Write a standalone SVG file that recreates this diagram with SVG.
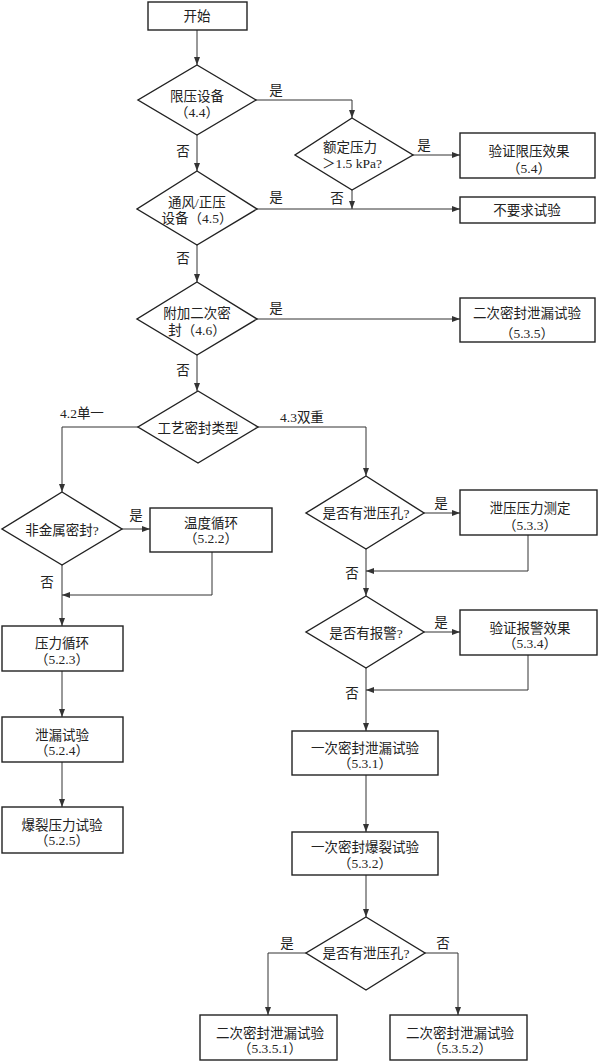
<svg xmlns="http://www.w3.org/2000/svg" width="598" height="1062" viewBox="0 0 598 1062">
<style>
.n rect,.n polygon{fill:#fff;stroke:#222;stroke-width:1.4}
text{font-family:"Liberation Serif","Noto Sans CJK SC",serif;font-size:13.5px;fill:#222;text-anchor:middle}
.l{font-size:13px}
.s{text-anchor:start}
#edges path{fill:none;stroke:#333;stroke-width:1}
</style>
<defs>
<marker id="a" markerUnits="userSpaceOnUse" markerWidth="8" markerHeight="6" refX="8" refY="3" orient="auto">
<path d="M0,0 L8,3 L0,6 z" fill="#333"/>
</marker>
</defs>
<rect width="598" height="1062" fill="#fff"/>
<g id="edges">
<path d="M197,30 V65" marker-end="url(#a)"/>
<path d="M256,100 H352 V118" marker-end="url(#a)"/>
<path d="M413,155 H460" marker-end="url(#a)"/>
<path d="M352,190 V209" marker-end="url(#a)"/>
<path d="M197,135 V171" marker-end="url(#a)"/>
<path d="M257,209 H460" marker-end="url(#a)"/>
<path d="M197,245 V282" marker-end="url(#a)"/>
<path d="M257,319 H460" marker-end="url(#a)"/>
<path d="M197,355 V391" marker-end="url(#a)"/>
<path d="M138,427 H62 V492" marker-end="url(#a)"/>
<path d="M258,427 H366 V476" marker-end="url(#a)"/>
<path d="M122,529 H150" marker-end="url(#a)"/>
<path d="M212,552 V595 H62" marker-end="url(#a)"/>
<path d="M62,565 V626" marker-end="url(#a)"/>
<path d="M62,671 V717" marker-end="url(#a)"/>
<path d="M62,762 V807" marker-end="url(#a)"/>
<path d="M424,513 H460" marker-end="url(#a)"/>
<path d="M528,535 V571 H366" marker-end="url(#a)"/>
<path d="M366,549 V596" marker-end="url(#a)"/>
<path d="M424,632 H460" marker-end="url(#a)"/>
<path d="M528,655 V690 H366" marker-end="url(#a)"/>
<path d="M366,668 V731" marker-end="url(#a)"/>
<path d="M366,775 V832" marker-end="url(#a)"/>
<path d="M366,875 V917" marker-end="url(#a)"/>
<path d="M306,953 H268 V1015" marker-end="url(#a)"/>
<path d="M425,953 H458 V1015" marker-end="url(#a)"/>
</g>
<g id="labels" class="l">
<text x="276" y="95">是</text>
<text x="183" y="156">否</text>
<text x="424" y="150">是</text>
<text x="337" y="203">否</text>
<text x="276" y="202">是</text>
<text x="183" y="263">否</text>
<text x="276" y="313">是</text>
<text x="183" y="375">否</text>
<text class="s" x="60" y="418">4.2单一</text>
<text class="s" x="280" y="422">4.3双重</text>
<text x="136" y="520">是</text>
<text x="47" y="587">否</text>
<text x="441" y="508">是</text>
<text x="352" y="578">否</text>
<text x="441" y="627">是</text>
<text x="352" y="698">否</text>
<text x="287" y="948">是</text>
<text x="443" y="948">否</text>
</g>
<g id="start" class="n"><rect x="148" y="2" width="99" height="28"/><text x="197" y="21">开始</text></g>
<g id="d1" class="n"><polygon points="197,65 256,100 197,135 138,100"/><text x="197" y="101">限压设备</text><text x="197" y="117">（4.4）</text></g>
<g id="d2" class="n"><polygon points="352,118 413,155 352,190 295,155"/><text x="350" y="152">额定压力</text><text x="352" y="168">＞1.5 kPa?</text></g>
<g id="b54" class="n"><rect x="460" y="133" width="135" height="45"/><text x="529" y="156">验证限压效果</text><text x="529" y="173">（5.4）</text></g>
<g id="bno" class="n"><rect x="460" y="197" width="135" height="26"/><text x="527" y="215">不要求试验</text></g>
<g id="d3" class="n"><polygon points="197,171 257,209 197,245 137,209"/><text x="197" y="207">通风/正压</text><text x="197" y="223">设备（4.5）</text></g>
<g id="d4" class="n"><polygon points="197,282 257,319 197,355 137,319"/><text x="197" y="318">附加二次密</text><text x="197" y="335">封（4.6）</text></g>
<g id="b535" class="n"><rect x="460" y="298" width="135" height="44"/><text x="527" y="318">二次密封泄漏试验</text><text x="527" y="338">（5.3.5）</text></g>
<g id="d5" class="n"><polygon points="198,391 258,427 198,463 138,427"/><text x="198" y="433">工艺密封类型</text></g>
<g id="d6" class="n"><polygon points="62,492 122,529 62,565 2,529"/><text x="62" y="535">非金属密封?</text></g>
<g id="b522" class="n"><rect x="150" y="508" width="122" height="44"/><text x="211" y="528">温度循环</text><text x="211" y="543">（5.2.2）</text></g>
<g id="b523" class="n"><rect x="2" y="626" width="121" height="45"/><text x="62" y="648">压力循环</text><text x="62" y="664">（5.2.3）</text></g>
<g id="b524" class="n"><rect x="2" y="717" width="121" height="45"/><text x="62" y="740">泄漏试验</text><text x="62" y="755">（5.2.4）</text></g>
<g id="b525" class="n"><rect x="2" y="807" width="121" height="46"/><text x="62" y="830">爆裂压力试验</text><text x="62" y="845">（5.2.5）</text></g>
<g id="d7" class="n"><polygon points="366,476 424,513 366,549 306,513"/><text x="366" y="518">是否有泄压孔?</text></g>
<g id="b533" class="n"><rect x="460" y="490" width="137" height="45"/><text x="530" y="513">泄压压力测定</text><text x="530" y="530">（5.3.3）</text></g>
<g id="d8" class="n"><polygon points="366,596 424,632 366,668 306,632"/><text x="366" y="638">是否有报警?</text></g>
<g id="b534" class="n"><rect x="460" y="610" width="137" height="45"/><text x="530" y="633">验证报警效果</text><text x="530" y="648">（5.3.4）</text></g>
<g id="b531" class="n"><rect x="292" y="731" width="146" height="44"/><text x="365" y="753">一次密封泄漏试验</text><text x="365" y="768">（5.3.1）</text></g>
<g id="b532" class="n"><rect x="292" y="832" width="146" height="43"/><text x="365" y="852">一次密封爆裂试验</text><text x="365" y="868">（5.3.2）</text></g>
<g id="d9" class="n"><polygon points="366,917 425,953 366,990 306,953"/><text x="366" y="958">是否有泄压孔?</text></g>
<g id="b5351" class="n"><rect x="200" y="1015" width="137" height="45"/><text x="270" y="1038">二次密封泄漏试验</text><text x="270" y="1053">（5.3.5.1）</text></g>
<g id="b5352" class="n"><rect x="390" y="1015" width="137" height="45"/><text x="460" y="1038">二次密封泄漏试验</text><text x="460" y="1053">（5.3.5.2）</text></g>
</svg>
